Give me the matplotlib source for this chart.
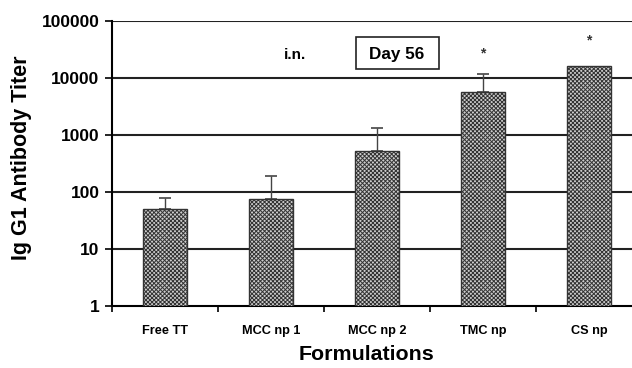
import matplotlib
matplotlib.use("Agg")
import matplotlib.pyplot as plt
from matplotlib.patches import Rectangle
import numpy as np

plt.rcParams['font.family'] = ['Liberation Sans', 'DejaVu Sans']
plt.rcParams['hatch.color'] = '#7c7c7c'
plt.rcParams['hatch.linewidth'] = 0.7

categories = ["Free TT", "MCC np 1", "MCC np 2", "TMC np", "CS np"]
titer = [50, 75, 525, 5650, 16300]
err_upper = [28, 115, 795, 6050, 0]
significant = [False, False, False, True, True]
yticks = [1, 10, 100, 1000, 10000, 100000]
yticklabels = ["1", "10", "100", "1000", "10000", "100000"]

star_offsets = [0, 0, 0, 15, 18]  # points above the bar/error top

fig = plt.figure(figsize=(6.32, 3.68), dpi=100)
ax = fig.add_axes([112/632, 1-306/368, 530/632, 285/368])

x = np.arange(len(categories))
ax.set_yscale('log')
ax.set_ylim(1, 100000)
ax.set_xlim(-0.5, len(categories)-0.5)

for yv in yticks[1:]:
    ax.axhline(yv, color='#222222', lw=1.5, zorder=1)

ax.bar(x, titer, width=0.41, facecolor='#cdcdcd', edgecolor='#333333',
       hatch='xxxxxxxx', lw=1.0, zorder=3)
has_err = [e > 0 for e in err_upper]
xe = x[has_err]
te = np.array(titer)[has_err]
ee = np.array(err_upper)[has_err]
ax.errorbar(xe, te, yerr=[np.zeros(len(te)), ee], fmt='none',
            ecolor='#444444', elinewidth=1.0, capsize=4, capthick=1.2, zorder=2)

for xi, v, e, s, off in zip(x, titer, err_upper, significant, star_offsets):
    if s:
        ax.annotate('*', (xi, v + e), xytext=(0, off), textcoords='offset points',
                    ha='center', va='center', fontsize=10, fontweight='bold', color='#333333')

ax.set_yticks(yticks)
ax.set_yticklabels(yticklabels, fontsize=12.5, fontweight='bold')
ax.yaxis.set_minor_locator(matplotlib.ticker.NullLocator())
ax.set_xticks(x)
ax.set_xticklabels(categories, fontsize=9.2, fontweight='bold')
ax.tick_params(axis='x', length=0, pad=14)
ax.set_xticks(np.arange(-0.5, len(categories), 1.0), minor=True)
ax.tick_params(axis='x', which='minor', length=4, width=1.2, direction='out')
ax.tick_params(axis='y', length=5, width=1.2, direction='out', pad=4)

for sp in ['top', 'right']:
    ax.spines[sp].set_visible(False)
ax.spines['left'].set_linewidth(1.5)
ax.spines['bottom'].set_linewidth(1.5)

fig.text(22/632, 1-158/368, "Ig G1 Antibody Titer", fontsize=15.5, fontweight='bold',
         rotation=90, ha='center', va='center')
fig.text(366/632, 1-354/368, "Formulations", fontsize=15.4, fontweight='bold',
         ha='center', va='center')

fig.text(295/632, 1-55/368, "i.n.", fontsize=11, fontweight='bold', ha='center', va='center')
fig.patches.append(Rectangle((356/632, 1-69/368), 83/632, 32/368, transform=fig.transFigure,
                             facecolor='white', edgecolor='#222222', lw=1.2, zorder=5))
fig.text(397/632, 1-54/368, "Day 56", fontsize=12.3, fontweight='bold', ha='center', va='center',
         zorder=6)

fig.savefig("out.png", dpi=100)
